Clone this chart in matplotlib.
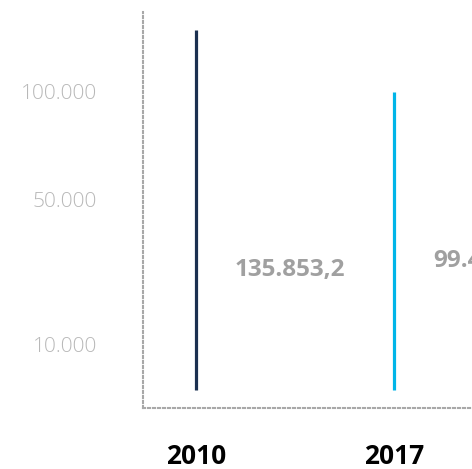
import numpy as np
import matplotlib.pyplot as plt
from matplotlib.ticker import FixedLocator, FuncFormatter
import matplotlib.transforms as mtransforms

# data
years = ['2010', '2017']
values = [135853.2, 99400.0]
value_labels = ['135.853,2', '99.400,0']
bar_colors = ['#1b3050', '#00b5e8']
ticks = [10000, 50000, 100000]

bar_base = 3700
label_y = [0.348, 0.371]  # axes fraction

plt.rcParams['font.family'] = ['Open Sans', 'DejaVu Sans']

fig = plt.figure(figsize=(4.72, 4.69), dpi=100)
ax = fig.add_axes([143 / 472, 61 / 469, 1 - 143 / 472, 396 / 469])

ax.set_yscale('function', functions=(np.sqrt, np.square))
ax.set_ylim(2052, 147300)
ax.set_xlim(-0.268, 1.394)

x = np.arange(len(years))
for xi, v, c in zip(x, values, bar_colors):
    ax.vlines(xi, bar_base, v, color=c, linewidth=2.3)

trans = mtransforms.blended_transform_factory(ax.transData, ax.transAxes)
for xi, lab, ly in zip(x, value_labels, label_y):
    ax.annotate(lab, xy=(xi, ly), xycoords=trans, xytext=(39, 0),
                textcoords='offset pixels', ha='left', va='center',
                fontsize=17.5, fontweight='bold', color='#a0a0a0',
                annotation_clip=False)

ax.yaxis.set_major_locator(FixedLocator(ticks))
ax.yaxis.set_minor_locator(FixedLocator([]))
ax.yaxis.set_major_formatter(FuncFormatter(lambda v, p: f'{int(v):,}'.replace(',', '.')))
ax.tick_params(axis='y', length=0, pad=33, labelsize=15, labelcolor='#b8b8b8')
for t in ax.get_yticklabels():
    t.set_fontweight('light')

ax.set_xticks(x)
ax.set_xticklabels(years, fontsize=19, fontweight='bold', color='black')
ax.tick_params(axis='x', length=0, pad=25)

for s in ['top', 'right']:
    ax.spines[s].set_visible(False)
for s in ['left', 'bottom']:
    ax.spines[s].set_color('#a8a8a8')
    ax.spines[s].set_linewidth(1.5)
    ax.spines[s].set_linestyle((0, (1, 1.4)))

fig.savefig('out.png', dpi=100)
